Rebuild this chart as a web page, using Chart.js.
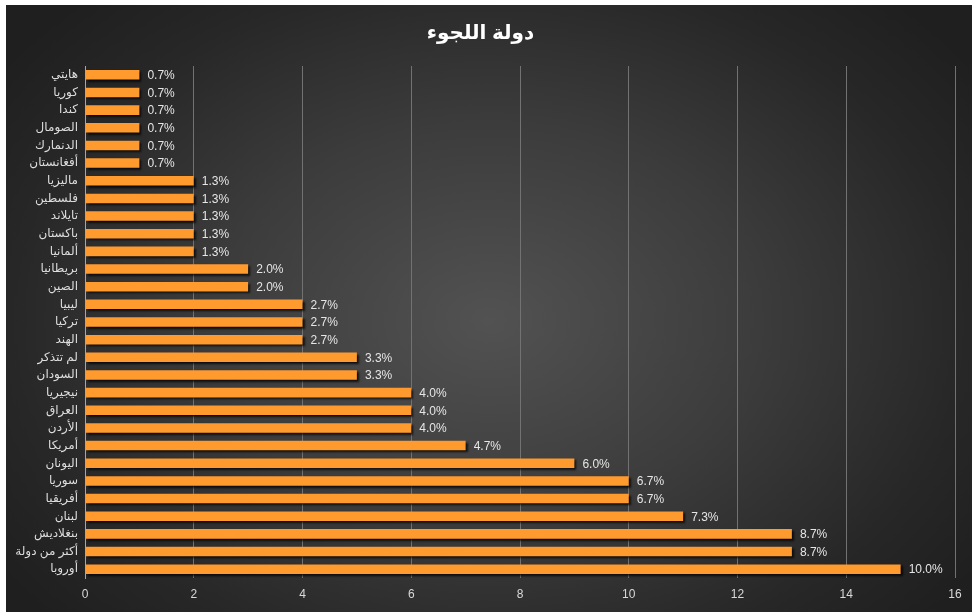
<!DOCTYPE html>
<html lang="ar">
<head>
<meta charset="utf-8">
<title>دولة اللجوء</title>
<script src="https://cdn.jsdelivr.net/npm/chart.js@4.4.1/dist/chart.umd.min.js"></script>
<style>
  html, body { margin: 0; padding: 0; background: #fff; }
  .frame {
    position: absolute; left: 6px; top: 5px; width: 966px; height: 607px;
    background: radial-gradient(ellipse 62% 72% at 50% 52%, #525252 0%, #3c3c3c 45%, #272727 80%, #1f1f1f 100%);
  }
  canvas { display: block; }
</style>
</head>
<body>
<div class="frame"><canvas id="asylumChart" width="966" height="607"></canvas></div>
<script>
// الدول من الأعلى إلى الأسفل
const countries = [
    'هايتي', 'كوريا', 'كندا', 'الصومال', 'الدنمارك', 'أفغانستان',
    'ماليزيا', 'فلسطين', 'تايلاند', 'باكستان', 'ألمانيا',
    'بريطانيا', 'الصين', 'ليبيا', 'تركيا', 'الهند',
    'لم تتذكر', 'السودان', 'نيجيريا', 'العراق', 'الأردن',
    'أمريكا', 'اليونان', 'سوريا', 'أفريقيا', 'لبنان',
    'بنغلاديش', 'أكثر من دولة', 'أوروبا'
];
const counts = [1, 1, 1, 1, 1, 1, 2, 2, 2, 2, 2, 3, 3, 4, 4, 4, 5, 5, 6, 6, 6, 7, 9, 10, 10, 11, 13, 13, 15];
const pctLabels = ['0.7%', '0.7%', '0.7%', '0.7%', '0.7%', '0.7%',
    '1.3%', '1.3%', '1.3%', '1.3%', '1.3%', '2.0%', '2.0%',
    '2.7%', '2.7%', '2.7%', '3.3%', '3.3%', '4.0%', '4.0%', '4.0%',
    '4.7%', '6.0%', '6.7%', '6.7%', '7.3%', '8.7%', '8.7%', '10.0%'];
const xTicks = [0, 2, 4, 6, 8, 10, 12, 14, 16];

const FONT = 'Arial, "Liberation Sans", "DejaVu Sans", sans-serif';

// ظل خفيف تحت الأعمدة
const barShadow = {
    id: 'barShadow',
    beforeDatasetsDraw(chart) {
        const ctx = chart.ctx;
        ctx.save();
        ctx.shadowColor = 'rgba(0,0,0,0.75)';
        ctx.shadowOffsetX = 2;
        ctx.shadowOffsetY = 2;
        ctx.shadowBlur = 2;
    },
    afterDatasetsDraw(chart) {
        chart.ctx.restore();
    }
};

// النسب المئوية بعد نهاية كل عمود
const valueLabels = {
    id: 'valueLabels',
    afterDatasetsDraw(chart) {
        const ctx = chart.ctx;
        const meta = chart.getDatasetMeta(0);
        ctx.save();
        ctx.font = '12px ' + FONT;
        ctx.fillStyle = '#e6e6e6';
        ctx.textAlign = 'left';
        ctx.textBaseline = 'middle';
        meta.data.forEach((bar, i) => {
            ctx.fillText(pctLabels[i], bar.x + 8, bar.y + 1);
        });
        ctx.restore();
    }
};

new Chart(document.getElementById('asylumChart'), {
    type: 'bar',
    data: {
        labels: countries,
        datasets: [{
            data: counts,
            backgroundColor: '#ff9a2f',
            borderWidth: 0,
            categoryPercentage: 1,
            barPercentage: 0.54
        }]
    },
    options: {
        indexAxis: 'y',
        responsive: false,
        animation: false,
        layout: { padding: { left: 0, right: 17, top: 0, bottom: 0 } },
        scales: {
            x: {
                min: 0, max: 16,
                afterBuildTicks: s => { s.ticks = xTicks.map(v => ({ value: v })); },
                afterFit: s => { s.height = 34; },
                grid: { color: '#727272', lineWidth: 1, drawTicks: false },
                border: { display: false },
                ticks: { color: '#d9d9d9', font: { size: 12, family: FONT }, padding: 9 }
            },
            y: {
                afterFit: s => { s.width = 79; },
                grid: { display: false, drawTicks: false },
                border: { display: true, color: '#a6a6a6', width: 1 },
                ticks: { color: '#dedede', font: { size: 12, family: FONT }, padding: 7, autoSkip: false }
            }
        },
        plugins: {
            legend: { display: false },
            tooltip: { enabled: false },
            title: {
                display: true,
                text: 'دولة اللجوء',
                color: '#ffffff',
                font: { size: 20, weight: 'bold', family: FONT },
                padding: { top: 16, bottom: 21 }
            }
        }
    },
    plugins: [barShadow, valueLabels]
});
</script>
</body>
</html>
